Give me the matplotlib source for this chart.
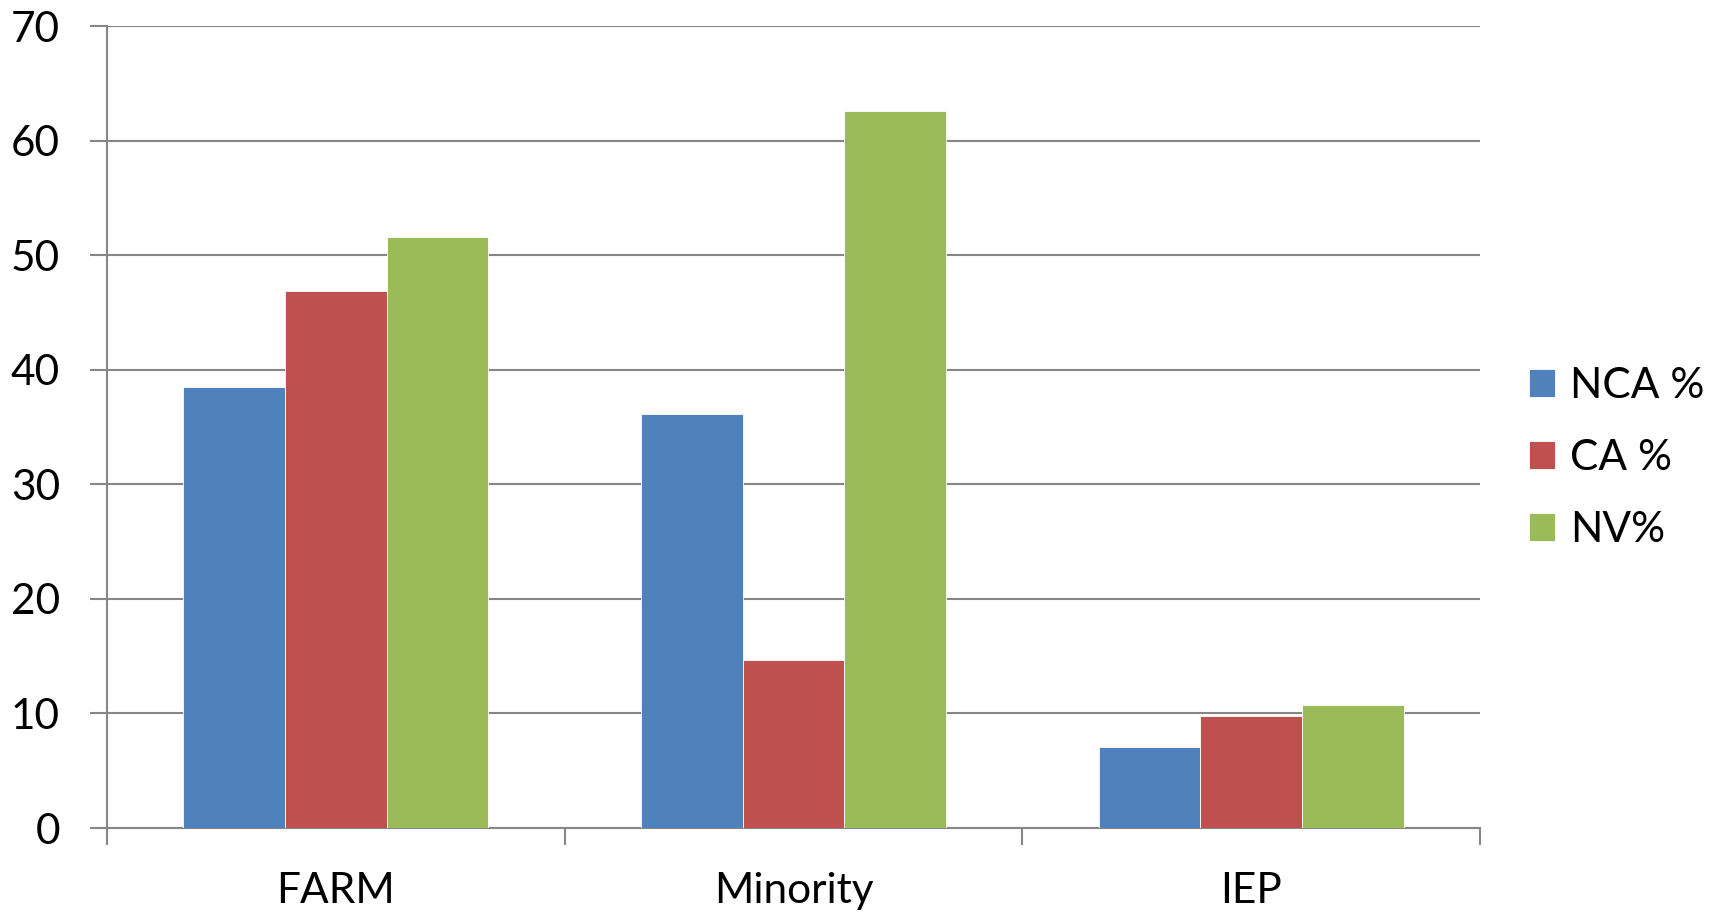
import matplotlib.pyplot as plt
import numpy as np

categories = ["FARM", "Minority", "IEP"]
series_names = ["NCA %", "CA %", "NV%"]
nca = [38.5, 36.1, 7.05]
ca = [46.85, 14.7, 9.75]
nv = [51.55, 62.6, 10.75]
colors = ["#4F81BD", "#C0504D", "#9BBB59"]
yticks = [0, 10, 20, 30, 40, 50, 60, 70]

plt.rcParams['font.family'] = ['Lato', 'DejaVu Sans']
FS = 30.5

fig = plt.figure(figsize=(17.11, 9.13), dpi=100)
ax = fig.add_axes([107 / 1711, 1 - 828 / 913, (1480 - 107) / 1711, (828 - 26) / 913])

grid_color = "#868686"
x = np.arange(len(categories))
w = 1 / 4.5
for i, (vals, name, c) in enumerate(zip([nca, ca, nv], series_names, colors)):
    ax.bar(x + (i - 1) * w, vals, width=w, color=c, label=name,
           edgecolor="white", linewidth=0.6, zorder=3)

ax.set_xlim(-0.5, len(categories) - 0.5)
ax.set_ylim(0, 70)
ax.set_yticks(yticks)
ax.set_yticklabels([str(t) for t in yticks], fontsize=FS)
ax.yaxis.grid(True, color=grid_color, linewidth=1.5, zorder=0)
ax.set_axisbelow(True)

# category labels centred, tick marks on group boundaries
ax.set_xticks(x)
ax.set_xticklabels(categories, fontsize=FS)
ax.tick_params(axis='x', length=0, pad=32)
ax.set_xticks(np.arange(-0.5, len(categories), 1), minor=True)
ax.tick_params(axis='x', which='minor', length=12, width=1.5, color=grid_color)
ax.tick_params(axis='y', length=12, width=1.5, color=grid_color, pad=22)

for s in ['top', 'right']:
    ax.spines[s].set_visible(False)
for s in ['left', 'bottom']:
    ax.spines[s].set_color(grid_color)
    ax.spines[s].set_linewidth(1.5)

handles, labels = ax.get_legend_handles_labels()
fig.legend(handles, labels, loc='center left', bbox_to_anchor=(1529 / 1711, 1 - 458 / 913),
           frameon=False, fontsize=FS, handlelength=0.62, handleheight=0.62,
           handletextpad=0.35, labelspacing=0.8, borderaxespad=0, borderpad=0)

fig.savefig("out.png", dpi=100)
